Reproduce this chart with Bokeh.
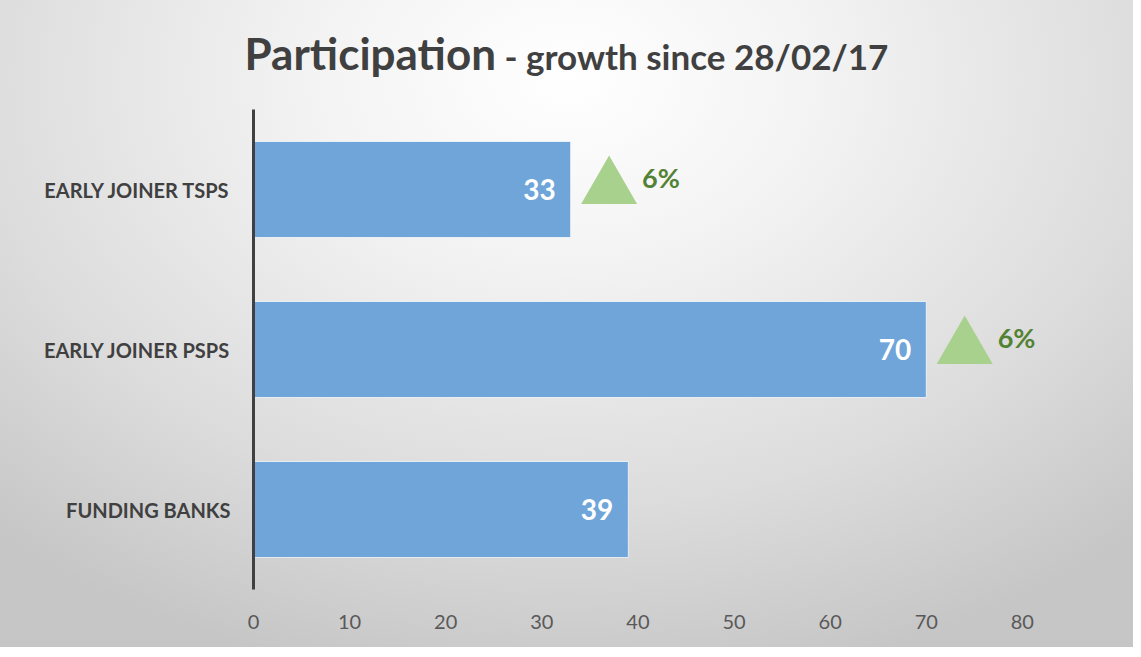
from bokeh.plotting import figure
from bokeh.models import Range1d, FactorRange, ColumnDataSource, FixedTicker, Div
from bokeh.layouts import column
from bokeh.core.properties import value
from bokeh.embed import file_html
from bokeh.resources import INLINE

categories = ["FUNDING BANKS", "EARLY JOINER PSPS", "EARLY JOINER TSPS"]
participants = [39, 70, 33]
growth_labels = ["", "6%", "6%"]
x_ticks = [0, 10, 20, 30, 40, 50, 60, 70, 80]
title_main = "Participation"
title_sub = " - growth since 28/02/17"

FONT = "Lato"
W = 1133

title = Div(
    text=(f'<div style="width:{W}px;text-align:center;padding-top:31px;line-height:1;'
          f'font-family:{FONT};font-weight:bold;color:#404040;white-space:nowrap;">'
          f'<span style="font-size:44px">{title_main}</span>'
          f'<span style="font-size:35px">{title_sub}</span></div>'),
    width=W, height=109, margin=0)

p = figure(width=W, height=538, output_backend="svg", toolbar_location=None,
           x_range=Range1d(0, 87.4), y_range=FactorRange(*categories),
           min_border_left=253, min_border_right=40, min_border_top=0, min_border_bottom=58,
           margin=0)
p.border_fill_alpha = 0
p.background_fill_alpha = 0
p.outline_line_color = None
p.xgrid.grid_line_color = None
p.ygrid.grid_line_color = None

src = ColumnDataSource(dict(cat=categories, val=participants, txt=[str(v) for v in participants]))
p.hbar(y="cat", right="val", left=0, height=0.6, source=src,
       fill_color="#6FA5D9", line_color="#ffffff", line_alpha=0.7, line_width=1)
p.text(x="val", y="cat", text="txt", source=src, x_offset=-15, text_align="right",
       text_baseline="middle", text_color="white", text_font=value(FONT),
       text_font_style="bold", text_font_size="28px")

# growth markers
g_cat = [c for c, g in zip(categories, growth_labels) if g]
g_val = [v for v, g in zip(participants, growth_labels) if g]
g_txt = [g for g in growth_labels if g]
gsrc = ColumnDataSource(dict(x=[v + 4.0 for v in g_val], y=[(c, 0.01) for c in g_cat], txt=g_txt))
p.scatter(x="x", y="y", source=gsrc, marker="triangle", size=56,
          fill_color="#A9D18E", line_color=None)
p.text(x="x", y="y", text="txt", source=gsrc, x_offset=33, y_offset=-10,
       text_align="left", text_baseline="middle", text_color="#548235",
       text_font=value(FONT), text_font_style="bold", text_font_size="27px")

# axes
xa = p.xaxis[0]
xa.ticker = FixedTicker(ticks=x_ticks)
xa.axis_line_color = None
xa.major_tick_line_color = None
xa.minor_tick_line_color = None
xa.major_label_standoff = 19
xa.major_label_text_font = FONT
xa.major_label_text_font_size = "20px"
xa.major_label_text_color = "#595959"

ya = p.yaxis[0]
ya.axis_line_color = "#404040"
ya.axis_line_width = 3
ya.major_tick_line_color = None
ya.minor_tick_line_color = None
ya.major_label_standoff = 17
ya.major_label_text_font = FONT
ya.major_label_text_font_style = "bold"
ya.major_label_text_font_size = "20px"
ya.major_label_text_color = "#404040"

layout = column(title, p, spacing=0, margin=0)
layout.styles = {"background": "radial-gradient(ellipse 75% 95% at 50% 12%, #ffffff 0%, #f3f3f3 30%, #dcdcdc 70%, #c6c6c6 100%)"}

open("out.html", "w").write(file_html(layout, INLINE))
